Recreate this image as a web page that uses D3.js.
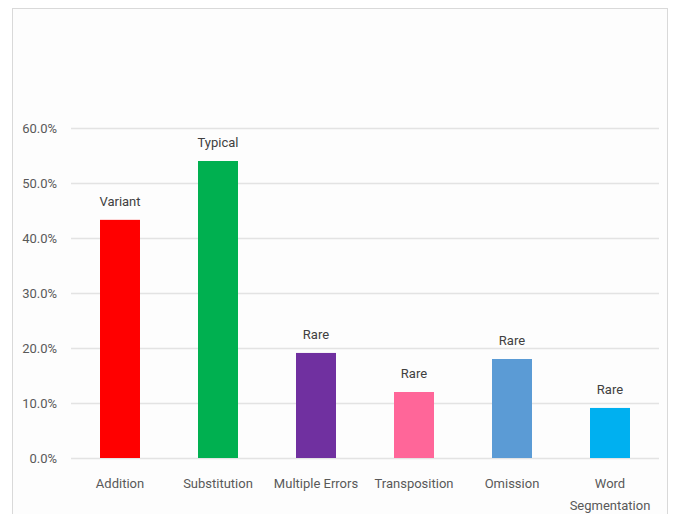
<!DOCTYPE html>
<html>
<head>
<meta charset="utf-8">
<script src="https://cdn.jsdelivr.net/npm/d3@7"></script>
<style>
  body { margin: 0; background: #fff; }
  svg { display: block; }
  .ticklabel { font-family: Roboto, "Open Sans", sans-serif; font-size: 13px; fill: #595959; }
  .barlabel { font-family: Roboto, "Open Sans", sans-serif; font-size: 13px; fill: #404040; }
</style>
</head>
<body>
<div id="vis"></div>
<script>
// data
var categories = ["Addition", "Substitution", "Multiple Errors", "Transposition", "Omission", "Word Segmentation"];
var values = [0.433, 0.540, 0.191, 0.120, 0.180, 0.091];
var tags = ["Variant", "Typical", "Rare", "Rare", "Rare", "Rare"];
var colors = ["#ff0000", "#00b050", "#7030a0", "#ff6699", "#5b9bd5", "#00b0f0"];
var yTicks = [0, 0.1, 0.2, 0.3, 0.4, 0.5, 0.6];

var fullWidth = 680, fullHeight = 514;
var margin = {top: 128, right: 21, bottom: 56, left: 71};
var width = fullWidth - margin.left - margin.right;
var height = fullHeight - margin.top - margin.bottom;

var x = d3.scaleBand().domain(categories).range([0, width]).paddingInner(0.592).paddingOuter(0.296);
var y = d3.scaleLinear().domain([0, 0.6]).range([height, 0]);

var svg = d3.select("#vis").append("svg")
  .attr("width", fullWidth)
  .attr("height", fullHeight);

// chart area frame
svg.append("rect")
  .attr("x", 12.5).attr("y", 8.5)
  .attr("width", 655).attr("height", 520)
  .attr("fill", "#fdfdfd")
  .attr("stroke", "#d9d9d9");

var g = svg.append("g")
  .attr("transform", "translate(" + margin.left + "," + margin.top + ")");

// gridlines
g.selectAll("line.grid")
  .data(yTicks)
  .enter().append("line")
  .attr("class", "grid")
  .attr("x1", 0).attr("x2", width)
  .attr("y1", function(d) { return Math.round(y(d)) + 0.5; })
  .attr("y2", function(d) { return Math.round(y(d)) + 0.5; })
  .attr("stroke", "#e3e3e3")
  .attr("stroke-width", 1.5);

// y labels
g.selectAll("text.ylab")
  .data(yTicks)
  .enter().append("text")
  .attr("class", "ticklabel")
  .attr("x", -14)
  .attr("y", function(d) { return y(d); })
  .attr("dy", "0.35em")
  .attr("text-anchor", "end")
  .text(function(d) { return d3.format(".1%")(d); });

// bars
g.selectAll("rect.bar")
  .data(values)
  .enter().append("rect")
  .attr("class", "bar")
  .attr("x", function(d, i) { return x(categories[i]); })
  .attr("width", x.bandwidth())
  .attr("y", function(d) { return y(d); })
  .attr("height", function(d) { return height - y(d); })
  .attr("fill", function(d, i) { return colors[i]; });

// labels above bars
g.selectAll("text.barlabel")
  .data(values)
  .enter().append("text")
  .attr("class", "barlabel")
  .attr("x", function(d, i) { return x(categories[i]) + x.bandwidth() / 2; })
  .attr("y", function(d) { return y(d) - 14; })
  .attr("text-anchor", "middle")
  .text(function(d, i) { return tags[i]; });

// category labels (wrap the long one like the original)
categories.forEach(function(c, i) {
  var lines = c === "Word Segmentation" ? ["Word", "Segmentation"] : [c];
  var t = g.append("text")
    .attr("class", "ticklabel")
    .attr("text-anchor", "middle")
    .attr("x", x(c) + x.bandwidth() / 2)
    .attr("y", height + 30);
  lines.forEach(function(l, k) {
    t.append("tspan")
      .attr("x", x(c) + x.bandwidth() / 2)
      .attr("dy", k === 0 ? 0 : 22)
      .text(l);
  });
});
</script>
</body>
</html>
